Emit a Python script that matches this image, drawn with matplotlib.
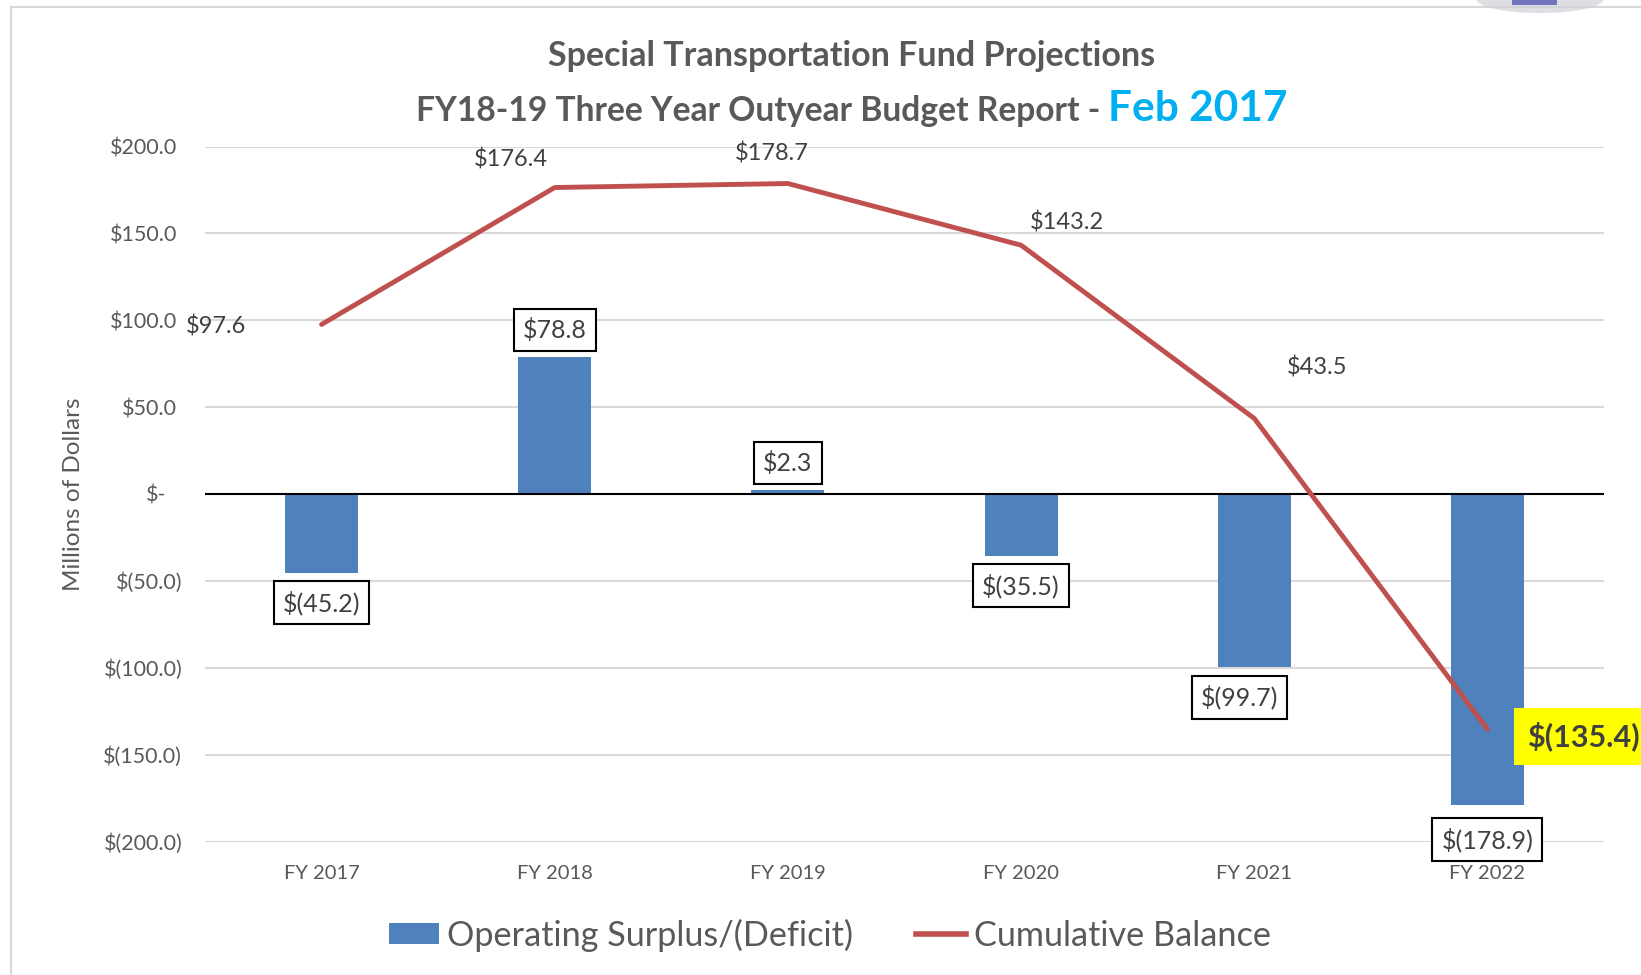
import numpy as np
import matplotlib
matplotlib.use('Agg')
import matplotlib.pyplot as plt
from matplotlib.patches import Rectangle, Ellipse, Patch
from matplotlib.lines import Line2D
from matplotlib.transforms import ScaledTranslation

plt.rcParams['font.family'] = ['Lato', 'DejaVu Sans']

# data
years = ['FY 2017', 'FY 2018', 'FY 2019', 'FY 2020', 'FY 2021', 'FY 2022']
surplus = [-45.2, 78.8, 2.3, -35.5, -99.7, -178.9]
cumulative = [97.6, 176.4, 178.7, 143.2, 43.5, -135.4]
y_ticks = [-200, -150, -100, -50, 0, 50, 100, 150, 200]

# label offsets in pixels (dx, dy), hand placed like in the original
bar_lbl_off = [(0, -30), (0, 27), (0, 27), (0, -30), (-15, -30), (0, -35)]
line_lbl_off = [(-75, -2), (-44, 28), (-16, 30), (46, 23), (63, 51)]

BLUE = '#4F81BD'
RED = '#C0504D'
GRAY = '#595959'
DARK = '#404040'


def money(v):
    if v == 0:
        return '$-'
    if v < 0:
        return f'$({abs(v):.1f})'
    return f'${v:.1f}'


W, H = 1641, 975
fig = plt.figure(figsize=(W / 100, H / 100), dpi=100)
px = 0.72  # points per pixel

# outer chart border (cropped at right/bottom)
fig.patches.append(Rectangle((10.5 / W, -0.2), 1.5, 1.2 - 7 / H, transform=fig.transFigure,
                             fill=False, edgecolor='#D9D9D9', lw=1.5))
# bit of a logo peeking in at the top right
fig.patches.append(Ellipse((1540 / W, 1.0), 126 / W, 26 / H, transform=fig.transFigure,
                           facecolor='#D0D0D8', edgecolor='none', alpha=0.7))
fig.patches.append(Rectangle((1512 / W, 1 - 5 / H), 45 / W, 5 / H, transform=fig.transFigure,
                             facecolor='#5A5AB4', edgecolor='none', alpha=0.8))

ax = fig.add_axes([205 / W, 1 - 841.5 / H, (1604 - 205) / W, (841.5 - 146.5) / H])
x = np.arange(len(years))

ax.bar(x, surplus, width=0.313, color=BLUE, zorder=2)
ax.plot(x, cumulative, color=RED, lw=3.5, zorder=4, solid_capstyle='round')
ax.axhline(0, color='black', lw=1.5, zorder=3)

ax.set_xlim(-0.5, len(years) - 0.5)
ax.set_ylim(-200, 200)
ax.set_yticks(y_ticks)
ax.set_yticklabels([money(v) for v in y_ticks])
ax.set_xticks(x)
ax.set_xticklabels(years)
ax.grid(axis='y', color='#D9D9D9', lw=1.5, zorder=0)
ax.set_axisbelow(True)
for s in ax.spines.values():
    s.set_visible(False)
ax.tick_params(axis='both', length=0, colors=GRAY)
ax.tick_params(axis='y', pad=20, labelsize=15.5)
ax.tick_params(axis='x', pad=17, labelsize=14.5)

# accounting-style alignment of y tick labels
for v, lab in zip(y_ticks, ax.get_yticklabels()):
    if v < 0:
        dx = 5
    elif v == 0:
        dx = -11
    else:
        dx = 0
    lab.set_transform(lab.get_transform() + ScaledTranslation(dx / 100, 0, fig.dpi_scale_trans))

# bar labels in boxes
for i, v in enumerate(surplus):
    dx, dy = bar_lbl_off[i]
    ax.annotate(money(v), (x[i], v), xytext=(dx * px, dy * px), textcoords='offset points',
                ha='center', va='center', fontsize=18, color=DARK, zorder=6,
                bbox=dict(boxstyle='square,pad=0.36', fc='white', ec='black', lw=1.5))

# cumulative balance labels
for i, v in enumerate(cumulative[:-1]):
    dx, dy = line_lbl_off[i]
    ax.annotate(money(v), (x[i], v), xytext=(dx * px, dy * px), textcoords='offset points',
                ha='right' if dx < -50 else 'center', va='center', fontsize=17, color=DARK)

ax.annotate(money(cumulative[-1]), (x[-1], cumulative[-1]), xytext=(40 * px, -7 * px),
            textcoords='offset points', ha='left', va='center', fontsize=22,
            fontweight='bold', color=DARK, annotation_clip=False,
            bbox=dict(boxstyle='square,pad=0.45', fc='#FFFF00', ec='none'))

# titles
fig.text(852 / W, 1 - 66 / H, 'Special Transportation Fund Projections', ha='center',
         va='baseline', fontsize=24.5, fontweight='bold', color=GRAY)
t1 = fig.text(0, 1 - 121 / H, 'FY18-19 Three Year Outyear Budget Report - ', ha='left',
              va='baseline', fontsize=24.2, fontweight='bold', color=GRAY)
t2 = fig.text(0, 1 - 121 / H, 'Feb 2017', ha='left', va='baseline', fontsize=30.5,
              fontweight='bold', color='#00B0F0')
fig.canvas.draw()
r = fig.canvas.get_renderer()
w1 = t1.get_window_extent(r).width
w2 = t2.get_window_extent(r).width
start = 852 - (w1 + w2) / 2
t1.set_x(start / W)
t2.set_x((start + w1) / W)

fig.text(74 / W, 1 - 494 / H, 'Millions of Dollars', rotation=90, ha='center', va='center',
         fontsize=17.5, color=GRAY)

handles = [Patch(facecolor=BLUE, edgecolor='none'), Line2D([0], [0], color=RED, lw=4)]
fig.legend(handles, ['Operating Surplus/(Deficit)', 'Cumulative Balance'], loc='center',
           bbox_to_anchor=(830 / W, 1 - 935 / H), ncol=2, frameon=False, fontsize=24.7,
           labelcolor=GRAY, handlelength=1.46, handleheight=0.58, handletextpad=0.24,
           columnspacing=1.83)

fig.savefig('out.png', dpi=100)
